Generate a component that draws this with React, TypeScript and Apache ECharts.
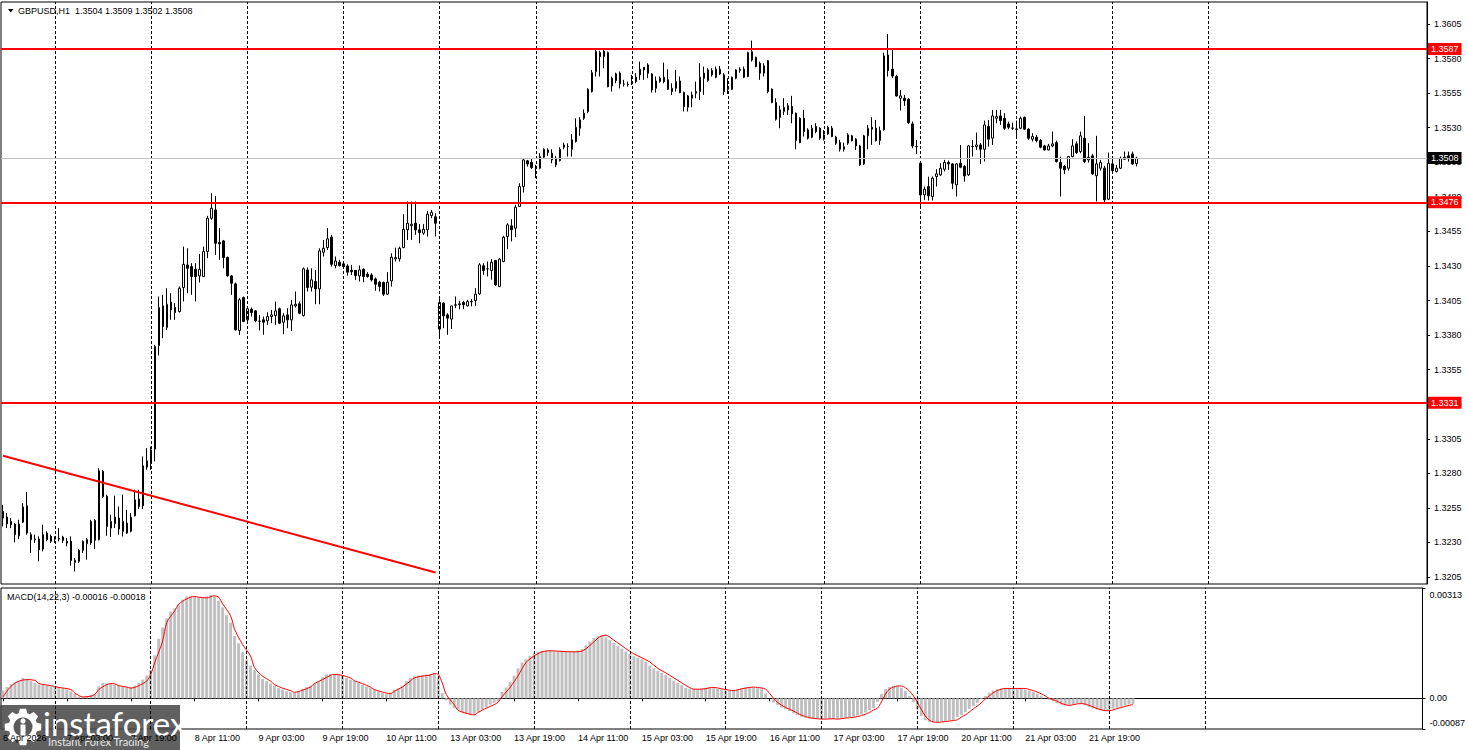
import React, { useEffect, useRef } from "react";
import * as echarts from "echarts";

// ---------- texts ----------
const symbolTitle = "GBPUSD,H1  1.3504 1.3509 1.3502 1.3508";
const macdTitle = "MACD(14,22,3) -0.00016 -0.00018";
const firstAxisLabel = "6 Apr 2026";
const brandName = "instaforex";
const brandSlogan = "Instant Forex Trading";

// ---------- time axis ----------
const sessionDays = ["6 Apr", "7 Apr", "8 Apr", "9 Apr", "10 Apr", "13 Apr", "14 Apr", "15 Apr", "16 Apr", "17 Apr", "20 Apr", "21 Apr", "22 Apr", "23 Apr", "24 Apr", "27 Apr"];
const firstSessionHour = 11;
const totalSlots = 356;
const gridMidnights = ["7 Apr 00:00", "8 Apr 00:00", "9 Apr 00:00", "10 Apr 00:00", "13 Apr 00:00", "14 Apr 00:00", "15 Apr 00:00", "16 Apr 00:00", "17 Apr 00:00", "20 Apr 00:00", "21 Apr 00:00", "22 Apr 00:00", "23 Apr 00:00"];
const labelEvery = 16;

// ---------- candles [open, high, low, close] per trading day ----------
const apr06 = [
  [1.32524, 1.32572, 1.32416, 1.32476], [1.32483, 1.32512, 1.32404, 1.32435], [1.32452, 1.32476, 1.32404, 1.32428],
  [1.32433, 1.3244, 1.32301, 1.32356], [1.32348, 1.32464, 1.32324, 1.32433], [1.32447, 1.32584, 1.3244, 1.32556],
  [1.32565, 1.32664, 1.32356, 1.32368], [1.32356, 1.32373, 1.32223, 1.3232], [1.3232, 1.32356, 1.32296, 1.32324],
  [1.32324, 1.32344, 1.32163, 1.32247], [1.32252, 1.32428, 1.32235, 1.32356], [1.32368, 1.3238, 1.32308, 1.3232],
  [1.32344, 1.32356, 1.32296, 1.32308],
];
const apr07 = [
  [1.32332, 1.32344, 1.32296, 1.32324], [1.32324, 1.32404, 1.32308, 1.3233], [1.32339, 1.32348, 1.32296, 1.32315],
  [1.32308, 1.32332, 1.32272, 1.32296], [1.32308, 1.32344, 1.32131, 1.3217], [1.3217, 1.32187, 1.3209, 1.32156],
  [1.32163, 1.32252, 1.32151, 1.32243], [1.32243, 1.32315, 1.32223, 1.32308], [1.32291, 1.32332, 1.32175, 1.3232],
  [1.32296, 1.32464, 1.32284, 1.32452], [1.32459, 1.32469, 1.32252, 1.32315], [1.3232, 1.32837, 1.32315, 1.32818],
  [1.32813, 1.32825, 1.32621, 1.32633], [1.32633, 1.32645, 1.32348, 1.32416], [1.32404, 1.325, 1.32339, 1.32452],
  [1.32435, 1.32638, 1.32404, 1.32483], [1.32476, 1.3256, 1.32356, 1.32397], [1.3238, 1.32645, 1.32344, 1.32452],
  [1.3244, 1.32536, 1.32363, 1.32368], [1.3238, 1.32512, 1.32373, 1.32483], [1.32493, 1.32681, 1.32488, 1.32608],
  [1.32613, 1.32681, 1.32541, 1.3256], [1.32565, 1.32922, 1.32541, 1.32854], [1.32845, 1.32982, 1.32825, 1.3289],
];
const apr08 = [
  [1.32873, 1.32994, 1.32825, 1.3297], [1.32975, 1.33729, 1.32886, 1.33717], [1.33724, 1.34079, 1.33652, 1.33999],
  [1.34011, 1.34091, 1.33777, 1.33862], [1.33855, 1.34139, 1.33837, 1.34023], [1.34038, 1.34103, 1.3391, 1.33982],
  [1.33999, 1.34031, 1.3391, 1.33963], [1.3397, 1.34151, 1.33963, 1.34139], [1.34144, 1.3444, 1.34043, 1.34312],
  [1.34307, 1.34428, 1.34103, 1.34283], [1.34295, 1.3432, 1.34091, 1.34223], [1.34276, 1.3432, 1.34043, 1.34223],
  [1.34228, 1.34387, 1.3418, 1.34276], [1.34223, 1.3444, 1.34223, 1.34404], [1.34404, 1.34662, 1.34356, 1.34645],
  [1.34645, 1.34826, 1.34633, 1.34717], [1.34705, 1.34806, 1.3438, 1.34464], [1.34469, 1.34573, 1.34344, 1.34459],
  [1.34481, 1.34488, 1.34283, 1.34361], [1.34361, 1.34368, 1.34223, 1.34228], [1.34228, 1.34235, 1.34091, 1.34175],
  [1.3417, 1.3418, 1.33833, 1.33837], [1.33833, 1.34067, 1.33801, 1.34055], [1.34071, 1.34079, 1.33893, 1.33898],
];
const apr09 = [
  [1.3391, 1.34006, 1.33898, 1.3399], [1.33987, 1.33999, 1.33934, 1.33963], [1.33975, 1.33982, 1.33893, 1.33903],
  [1.339, 1.33946, 1.33833, 1.339], [1.3391, 1.33934, 1.33802, 1.33893], [1.33903, 1.33965, 1.33874, 1.33934],
  [1.33934, 1.33982, 1.33886, 1.33946], [1.33941, 1.34042, 1.33874, 1.33975], [1.3399, 1.33999, 1.33879, 1.33886],
  [1.33893, 1.33958, 1.33806, 1.33939], [1.33946, 1.33994, 1.3385, 1.3391], [1.3391, 1.34055, 1.3383, 1.34018],
  [1.34011, 1.34115, 1.33999, 1.34023], [1.34026, 1.34043, 1.33951, 1.33958], [1.33941, 1.34289, 1.33934, 1.34279],
  [1.34271, 1.34289, 1.34115, 1.34144], [1.34146, 1.34283, 1.34115, 1.34199], [1.34187, 1.34271, 1.34023, 1.34134],
  [1.34134, 1.34428, 1.34023, 1.34409], [1.34399, 1.34488, 1.34368, 1.34428], [1.34433, 1.34573, 1.34416, 1.34496],
  [1.34508, 1.34525, 1.34295, 1.34312], [1.34303, 1.34368, 1.34283, 1.34336], [1.34327, 1.34344, 1.34295, 1.34303],
];
const apr10 = [
  [1.34315, 1.34332, 1.34284, 1.34296], [1.343, 1.34312, 1.3423, 1.34255], [1.34269, 1.34308, 1.34235, 1.34258],
  [1.34267, 1.34271, 1.34199, 1.3423], [1.34228, 1.34303, 1.34187, 1.34271], [1.34276, 1.34283, 1.34182, 1.34223],
  [1.3424, 1.34255, 1.34216, 1.34223], [1.34235, 1.34247, 1.34187, 1.34199], [1.34206, 1.34216, 1.3412, 1.34168],
  [1.34182, 1.34192, 1.34115, 1.34151], [1.3418, 1.34187, 1.34083, 1.34096], [1.34096, 1.34255, 1.34091, 1.34182],
  [1.34192, 1.34392, 1.34151, 1.34363], [1.34351, 1.34433, 1.34332, 1.34361], [1.34351, 1.3444, 1.34332, 1.34428],
  [1.34433, 1.34674, 1.34428, 1.34565], [1.34561, 1.34766, 1.34488, 1.34609], [1.34592, 1.34766, 1.34488, 1.34602],
  [1.34609, 1.34766, 1.34525, 1.34561], [1.34561, 1.34602, 1.34464, 1.34541], [1.34537, 1.34602, 1.34525, 1.34565],
  [1.34561, 1.34698, 1.34513, 1.34674], [1.34664, 1.34705, 1.34645, 1.34688], [1.34655, 1.34681, 1.34513, 1.34609],
];
const apr13 = [
  [1.33843, 1.34079, 1.33771, 1.34036], [1.34031, 1.34036, 1.3385, 1.33939], [1.33946, 1.33958, 1.33802, 1.33922],
  [1.33915, 1.34011, 1.33843, 1.34011], [1.34016, 1.34079, 1.33995, 1.34019], [1.34019, 1.34048, 1.33987, 1.34026],
  [1.34036, 1.34048, 1.33987, 1.34019], [1.34011, 1.34055, 1.34007, 1.34043], [1.3404, 1.3406, 1.34007, 1.34043],
  [1.3405, 1.34139, 1.34011, 1.34096], [1.34098, 1.3432, 1.34091, 1.34308], [1.34301, 1.3432, 1.34236, 1.34267],
  [1.34279, 1.34332, 1.34224, 1.34279], [1.34267, 1.34349, 1.342, 1.34327], [1.34339, 1.34344, 1.34156, 1.34163],
  [1.34151, 1.34356, 1.34146, 1.34349], [1.34332, 1.34518, 1.34327, 1.34508], [1.34513, 1.34609, 1.34421, 1.34597],
  [1.3459, 1.34638, 1.34477, 1.34561], [1.34573, 1.34742, 1.34508, 1.34725], [1.3473, 1.34898, 1.3473, 1.34874],
  [1.34874, 1.35079, 1.34831, 1.35067], [1.3506, 1.35067, 1.35019, 1.35038], [1.35048, 1.35079, 1.35, 1.35012],
];
const apr14 = [
  [1.35007, 1.35031, 1.34935, 1.35007], [1.35007, 1.35115, 1.35, 1.35091], [1.35086, 1.35151, 1.35079, 1.35144],
  [1.35139, 1.35151, 1.35096, 1.3512], [1.35115, 1.35144, 1.35043, 1.35067], [1.35031, 1.35096, 1.35014, 1.35079],
  [1.35062, 1.35159, 1.35055, 1.35144], [1.35159, 1.35192, 1.35144, 1.35175], [1.35163, 1.35187, 1.35091, 1.35163],
  [1.35144, 1.35255, 1.35091, 1.35212], [1.352, 1.35368, 1.35192, 1.35303], [1.35296, 1.35376, 1.35241, 1.35356],
  [1.35368, 1.35433, 1.35356, 1.35405], [1.35417, 1.35585, 1.35405, 1.35578], [1.35561, 1.35718, 1.35554, 1.35698],
  [1.35706, 1.35874, 1.3567, 1.3585], [1.35843, 1.35857, 1.3567, 1.35814], [1.35814, 1.35862, 1.3573, 1.35855],
  [1.35843, 1.3585, 1.35592, 1.35597], [1.35602, 1.3567, 1.35561, 1.35658], [1.35641, 1.35698, 1.35621, 1.35689],
  [1.35694, 1.35706, 1.35585, 1.35617], [1.35614, 1.35646, 1.35597, 1.35616], [1.35614, 1.35633, 1.35597, 1.35612],
];
const apr15 = [
  [1.35617, 1.35682, 1.35609, 1.35634], [1.35634, 1.35694, 1.35621, 1.35665], [1.35682, 1.35778, 1.35646, 1.35723],
  [1.35737, 1.35737, 1.35646, 1.35718], [1.35754, 1.35766, 1.35658, 1.35694], [1.35689, 1.35694, 1.35554, 1.35573],
  [1.35585, 1.3567, 1.35554, 1.35638], [1.35633, 1.3567, 1.35626, 1.35658], [1.35665, 1.35771, 1.35621, 1.35633],
  [1.35646, 1.35723, 1.35573, 1.35578], [1.35561, 1.35621, 1.35537, 1.35585], [1.35585, 1.35718, 1.35561, 1.35633],
  [1.35638, 1.3567, 1.35549, 1.35554], [1.35554, 1.35561, 1.35417, 1.35453], [1.35448, 1.35537, 1.35417, 1.3553],
  [1.35513, 1.35561, 1.35448, 1.35537], [1.35549, 1.35633, 1.35513, 1.35561], [1.35561, 1.35766, 1.35501, 1.35665],
  [1.35694, 1.35742, 1.35537, 1.35658], [1.35641, 1.3573, 1.35633, 1.35718], [1.35682, 1.3573, 1.3567, 1.35713],
  [1.35665, 1.35742, 1.35658, 1.35723], [1.35689, 1.35747, 1.35682, 1.35723], [1.35682, 1.35694, 1.35537, 1.35561],
];
const apr16 = [
  [1.35578, 1.35658, 1.35544, 1.3558], [1.35578, 1.3567, 1.35573, 1.35665], [1.35658, 1.35723, 1.3565, 1.35718],
  [1.35713, 1.35737, 1.35698, 1.35723], [1.35723, 1.35742, 1.35658, 1.35665], [1.3567, 1.3585, 1.35665, 1.35843],
  [1.3585, 1.3593, 1.35778, 1.3579], [1.35809, 1.35814, 1.35737, 1.35742], [1.35766, 1.35778, 1.35646, 1.35694],
  [1.35694, 1.35766, 1.3567, 1.35747], [1.35785, 1.3579, 1.35549, 1.35561], [1.35578, 1.35585, 1.35477, 1.35482],
  [1.35482, 1.35513, 1.35351, 1.35361], [1.35375, 1.35458, 1.35296, 1.35429], [1.35417, 1.35513, 1.35392, 1.35448],
  [1.35458, 1.35477, 1.35392, 1.35429], [1.35453, 1.3553, 1.35332, 1.354], [1.35405, 1.35409, 1.35144, 1.35207],
  [1.35192, 1.35376, 1.35188, 1.35368], [1.35368, 1.35429, 1.35236, 1.35272], [1.35284, 1.35296, 1.35214, 1.35224],
  [1.35231, 1.3532, 1.35224, 1.35296], [1.35308, 1.35332, 1.3526, 1.35272], [1.35296, 1.35303, 1.35212, 1.35224],
];
const apr17 = [
  [1.35217, 1.35284, 1.35207, 1.35248], [1.35255, 1.35313, 1.35248, 1.35303], [1.35296, 1.35313, 1.35231, 1.35236],
  [1.35231, 1.35241, 1.35176, 1.35188], [1.35192, 1.35212, 1.35127, 1.35144], [1.35144, 1.35192, 1.35127, 1.35163],
  [1.35188, 1.3526, 1.35176, 1.35248], [1.35241, 1.35248, 1.352, 1.35207], [1.35217, 1.35224, 1.35139, 1.35168],
  [1.35168, 1.35176, 1.35024, 1.35031], [1.35038, 1.35248, 1.35031, 1.35241], [1.35241, 1.3532, 1.35144, 1.35296],
  [1.35303, 1.35376, 1.35176, 1.35289], [1.35296, 1.35356, 1.352, 1.35207], [1.35207, 1.35308, 1.35176, 1.35279],
  [1.35284, 1.35843, 1.35279, 1.35819], [1.35826, 1.35978, 1.3567, 1.35713], [1.35723, 1.35862, 1.35658, 1.35674],
  [1.3567, 1.35682, 1.35525, 1.3553], [1.35513, 1.35573, 1.35424, 1.3553], [1.35513, 1.35537, 1.35458, 1.35496],
  [1.35506, 1.35513, 1.35327, 1.35337], [1.35327, 1.35344, 1.35151, 1.35168], [1.35163, 1.35212, 1.3511, 1.35165],
];
const apr20 = [
  [1.35043, 1.35043, 1.34735, 1.34814], [1.34814, 1.34874, 1.34778, 1.34855], [1.34874, 1.34946, 1.34773, 1.34807],
  [1.34802, 1.34947, 1.34773, 1.34935], [1.34947, 1.35, 1.34874, 1.34966], [1.34959, 1.35043, 1.34951, 1.35007],
  [1.34999, 1.35067, 1.34983, 1.35048], [1.35048, 1.35062, 1.34995, 1.35038], [1.35038, 1.35043, 1.34855, 1.34898],
  [1.34886, 1.35043, 1.34802, 1.35038], [1.35043, 1.35175, 1.35007, 1.35014], [1.35019, 1.35031, 1.3491, 1.34951],
  [1.34959, 1.35175, 1.34951, 1.35168], [1.35163, 1.35212, 1.35091, 1.35165], [1.35163, 1.35265, 1.35139, 1.35175],
  [1.35175, 1.35188, 1.35038, 1.35144], [1.35144, 1.35351, 1.35055, 1.3532], [1.35308, 1.35356, 1.35163, 1.35217],
  [1.35224, 1.35429, 1.35175, 1.35385], [1.35368, 1.35429, 1.35332, 1.3538], [1.35385, 1.35429, 1.3532, 1.35352],
  [1.35368, 1.35405, 1.35284, 1.35296], [1.35327, 1.35344, 1.35289, 1.35303], [1.35296, 1.35337, 1.35284, 1.35298],
];
const apr21 = [
  [1.35291, 1.35352, 1.35236, 1.35289], [1.35296, 1.3538, 1.35289, 1.35368], [1.35375, 1.3538, 1.35284, 1.35289],
  [1.35289, 1.35296, 1.35212, 1.35224], [1.35217, 1.3526, 1.352, 1.35236], [1.35231, 1.35248, 1.35193, 1.35207],
  [1.35207, 1.35217, 1.35151, 1.35159], [1.35168, 1.35176, 1.35135, 1.35139], [1.35139, 1.35183, 1.35135, 1.35168],
  [1.35168, 1.35272, 1.35159, 1.35183], [1.35192, 1.35207, 1.35048, 1.35055], [1.35048, 1.35091, 1.34802, 1.35007],
  [1.35019, 1.35031, 1.34966, 1.34995], [1.35007, 1.35096, 1.3499, 1.35091], [1.35091, 1.35217, 1.35086, 1.35168],
  [1.35183, 1.352, 1.3511, 1.3512], [1.35127, 1.35272, 1.35115, 1.35241], [1.35224, 1.35385, 1.35043, 1.35055],
  [1.35067, 1.35188, 1.35048, 1.35086], [1.35096, 1.3511, 1.34959, 1.34966], [1.34952, 1.35241, 1.34766, 1.35038],
  [1.35007, 1.35067, 1.3499, 1.35048], [1.35007, 1.35024, 1.34749, 1.34778], [1.34783, 1.3512, 1.34778, 1.35043],
];
const apr22 = [
  [1.35038, 1.35091, 1.34976, 1.3499], [1.34983, 1.35031, 1.34976, 1.35007], [1.35007, 1.35091, 1.35, 1.35079],
  [1.35072, 1.35127, 1.35067, 1.35086], [1.35096, 1.35127, 1.35055, 1.35079], [1.3511, 1.35127, 1.35031, 1.35038],
  [1.3504, 1.3509, 1.3502, 1.3508],
];
const candleDays = [apr06, apr07, apr08, apr09, apr10, apr13, apr14, apr15, apr16, apr17, apr20, apr21, apr22];

// ---------- levels ----------
const priceTicks = [1.3205, 1.323, 1.3255, 1.328, 1.3305, 1.333, 1.3355, 1.338, 1.3405, 1.343, 1.3455, 1.348, 1.3505, 1.353, 1.3555, 1.358, 1.3605];
const priceRange = [1.319994, 1.362091];
const keyLevels = [1.3587, 1.3476, 1.3331];
const bidPrice = 1.3508;
const trendLine = [[0, 1.32927], [108, 1.32083]];

// ---------- MACD ----------
const macdRange = [-0.00087, 0.00313];
const macdTicks = [-0.00087, 0, 0.00313];
const macdHist = [
  22e-5, 32e-5, 41e-5, 46e-5, 49e-5, 58e-5, 55e-5, 49e-5, 44e-5, 39e-5, 39e-5, 36e-5, 34e-5,
  32e-5, 32e-5, 29e-5, 25e-5, 20e-5, 13e-5, 5e-5, 3e-5, 7e-5, 10e-5, 12e-5, 34e-5, 44e-5, 42e-5, 41e-5, 39e-5, 36e-5, 34e-5, 32e-5, 32e-5, 36e-5, 44e-5, 53e-5, 65e-5,
  80e-5, 122e-5, 169e-5, 201e-5, 227e-5, 246e-5, 255e-5, 267e-5, 280e-5, 289e-5, 291e-5, 289e-5, 287e-5, 287e-5, 289e-5, 293e-5, 289e-5, 277e-5, 258e-5, 236e-5, 215e-5, 177e-5, 156e-5, 131e-5,
  110e-5, 93e-5, 80e-5, 68e-5, 55e-5, 49e-5, 42e-5, 36e-5, 29e-5, 25e-5, 20e-5, 17e-5, 15e-5, 20e-5, 27e-5, 32e-5, 36e-5, 42e-5, 49e-5, 60e-5, 68e-5, 69e-5, 69e-5, 68e-5,
  63e-5, 58e-5, 53e-5, 49e-5, 44e-5, 39e-5, 34e-5, 29e-5, 25e-5, 20e-5, 15e-5, 12e-5, 17e-5, 25e-5, 29e-5, 36e-5, 49e-5, 58e-5, 63e-5, 65e-5, 66e-5, 68e-5, 69e-5, 72e-5,
  60e-5, 15e-5, -6e-5, -18e-5, -28e-5, -34e-5, -40e-5, -44e-5, -47e-5, -47e-5, -40e-5, -32e-5, -25e-5, -18e-5, -13e-5, -9e-5, 18e-5, 31e-5, 46e-5, 64e-5, 85e-5, 102e-5, 111e-5, 120e-5,
  127e-5, 132e-5, 135e-5, 135e-5, 134e-5, 133e-5, 133e-5, 133e-5, 133e-5, 133e-5, 134e-5, 135e-5, 140e-5, 150e-5, 161e-5, 171e-5, 177e-5, 179e-5, 173e-5, 165e-5, 157e-5, 149e-5, 141e-5, 133e-5,
  126e-5, 119e-5, 115e-5, 110e-5, 103e-5, 93e-5, 85e-5, 78e-5, 72e-5, 66e-5, 58e-5, 50e-5, 44e-5, 37e-5, 30e-5, 26e-5, 25e-5, 26e-5, 28e-5, 30e-5, 31e-5, 29e-5, 27e-5, 25e-5,
  23e-5, 22e-5, 24e-5, 27e-5, 29e-5, 31e-5, 32e-5, 31e-5, 29e-5, 26e-5, 14e-5, 0, -12e-5, -19e-5, -26e-5, -31e-5, -36e-5, -42e-5, -48e-5, -52e-5, -55e-5, -57e-5, -58e-5, -59e-5,
  -59e-5, -58e-5, -58e-5, -59e-5, -58e-5, -56e-5, -55e-5, -54e-5, -52e-5, -49e-5, -46e-5, -40e-5, -33e-5, -28e-5, -10e-5, 12e-5, 26e-5, 32e-5, 35e-5, 35e-5, 30e-5, 21e-5, 7e-5, -11e-5,
  -32e-5, -50e-5, -62e-5, -67e-5, -68e-5, -67e-5, -66e-5, -64e-5, -63e-5, -61e-5, -53e-5, -47e-5, -39e-5, -30e-5, -22e-5, -13e-5, -2e-5, 7e-5, 16e-5, 22e-5, 26e-5, 28e-5, 28e-5, 28e-5,
  28e-5, 28e-5, 28e-5, 25e-5, 22e-5, 18e-5, 13e-5, 7e-5, 0, -4e-5, -8e-5, -14e-5, -18e-5, -20e-5, -18e-5, -16e-5, -15e-5, -16e-5, -20e-5, -24e-5, -29e-5, -32e-5, -35e-5, -35e-5,
  -33e-5, -29e-5, -26e-5, -23e-5, -20e-5, -17e-5, -16e-5,
];
// signal line, read at [bar index, value]
const macdSignal = [
  [0, 4e-5], [2, 34e-5], [4, 49e-5], [6, 53e-5], [8, 51e-5], [9, 42e-5], [12, 36e-5], [14, 31e-5], [17, 25e-5], [18, 15e-5], [20, 4e-5], [22, 6e-5], [23, 11e-5],
  [24, 25e-5], [26, 39e-5], [27, 42e-5], [28, 41e-5], [29, 36e-5], [31, 32e-5], [32, 29e-5], [33, 31e-5], [34, 36e-5], [36, 49e-5], [37, 68e-5], [38, 101e-5],
  [40, 163e-5], [41, 215e-5], [43, 248e-5], [44, 267e-5], [46, 282e-5], [48, 289e-5], [49, 287e-5], [51, 285e-5], [53, 291e-5], [54, 287e-5], [55, 268e-5],
  [57, 234e-5], [58, 196e-5], [60, 153e-5], [62, 120e-5], [63, 87e-5], [65, 63e-5], [67, 49e-5], [68, 39e-5], [70, 29e-5], [72, 22e-5], [73, 17e-5], [75, 23e-5],
  [77, 32e-5], [78, 42e-5], [80, 53e-5], [82, 65e-5], [83, 68e-5], [85, 65e-5], [87, 58e-5], [88, 50e-5], [90, 42e-5], [92, 32e-5], [93, 25e-5], [95, 18e-5],
  [97, 13e-5], [98, 20e-5], [100, 32e-5], [102, 49e-5], [103, 58e-5], [105, 63e-5], [107, 66e-5], [108, 70e-5], [109, 68e-5], [110, 44e-5], [111, 11e-5],
  [113, -18e-5], [114, -34e-5], [116, -42e-5], [118, -47e-5], [119, -40e-5], [121, -28e-5], [123, -18e-5], [124, -11e-5], [125, 5e-5], [127, 31e-5], [129, 64e-5],
  [131, 102e-5], [133, 120e-5], [135, 132e-5], [137, 135e-5], [140, 133e-5], [143, 132e-5], [145, 134e-5], [147, 150e-5], [149, 171e-5], [150, 177e-5], [151, 179e-5],
  [152, 173e-5], [154, 157e-5], [156, 141e-5], [158, 126e-5], [160, 115e-5], [162, 103e-5], [164, 85e-5], [166, 72e-5], [168, 58e-5], [170, 44e-5], [172, 30e-5],
  [173, 26e-5], [175, 26e-5], [177, 30e-5], [178, 31e-5], [180, 27e-5], [182, 23e-5], [183, 22e-5], [185, 27e-5], [187, 31e-5], [188, 32e-5], [189, 31e-5],
  [190, 29e-5], [191, 26e-5], [192, 14e-5], [193, 0], [194, -12e-5], [196, -26e-5], [198, -36e-5], [200, -48e-5], [202, -55e-5], [204, -58e-5], [206, -59e-5],
  [208, -58e-5], [209, -59e-5], [211, -56e-5], [213, -54e-5], [215, -49e-5], [217, -40e-5], [218, -33e-5], [219, -28e-5], [220, -10e-5], [221, 12e-5], [222, 26e-5],
  [223, 32e-5], [224, 35e-5], [225, 35e-5], [226, 30e-5], [227, 21e-5], [228, 7e-5], [229, -11e-5], [230, -32e-5], [231, -50e-5], [232, -62e-5], [233, -67e-5],
  [234, -68e-5], [236, -66e-5], [238, -63e-5], [239, -61e-5], [240, -53e-5], [241, -47e-5], [242, -39e-5], [243, -30e-5], [244, -22e-5], [245, -13e-5],
  [246, -2e-5], [247, 7e-5], [248, 16e-5], [249, 22e-5], [250, 26e-5], [251, 28e-5], [255, 28e-5], [256, 28e-5], [257, 25e-5], [258, 22e-5], [259, 18e-5],
  [260, 13e-5], [261, 7e-5], [262, 0], [263, -4e-5], [264, -8e-5], [265, -14e-5], [266, -18e-5], [267, -20e-5], [268, -18e-5], [269, -16e-5], [270, -15e-5],
  [271, -16e-5], [272, -20e-5], [273, -24e-5], [274, -29e-5], [275, -32e-5], [276, -35e-5], [277, -35e-5], [278, -33e-5], [279, -29e-5], [280, -26e-5],
  [281, -23e-5], [282, -20e-5], [283, -18e-5],
];

// ---------- builders ----------
function buildCategories(): string[] {
  const out: string[] = [];
  sessionDays.forEach((d, di) => {
    for (let h = di === 0 ? firstSessionHour : 0; h < 24; h++) {
      out.push(`${d} ${String(h).padStart(2, "0")}:00`);
    }
  });
  return out.slice(0, totalSlots);
}

function gearPoints(cx: number, cy: number, rIn: number, rOut: number, teeth: number) {
  const pts: number[][] = [];
  for (let k = 0; k < teeth; k++) {
    const a = (k * 2 * Math.PI) / teeth;
    [[-0.3, rIn], [-0.17, rOut], [0.17, rOut], [0.3, rIn]].forEach(([da, r]) => {
      pts.push([cx + r * Math.cos(a + da), cy + r * Math.sin(a + da)]);
    });
  }
  return pts;
}

const FONT = "Liberation Sans";

export default function App() {
  const ref = useRef<HTMLDivElement>(null);

  useEffect(() => {
    if (!ref.current) return;
    const chart = echarts.init(ref.current, null, { renderer: "svg" });
    const categories = buildCategories();
    const candles = candleDays.flat();
    const lastIndex = candles.length - 1;
    const lastSlot = categories.length - 1;
    const candleData = candles.map(([o, h, l, c]) => [o, c, l, h]);
    const showLabel = (i: number) => i % labelEvery === 0 && i <= lastIndex;

    const vLines = gridMidnights.map((name) => ({ xAxis: name }));
    const dashStyle = { color: "#000", width: 1, type: [3, 2] as any };

    const tagLabel = (v: number, bg: string) => ({
      show: true, position: "end", distance: 1, formatter: v.toFixed(4),
      backgroundColor: bg, color: "#ffffff", padding: [2, 3, 1, 3], fontSize: 9, fontFamily: FONT,
    });
    // horizontal lines across the whole plot: from the first slot edge to the last
    const hLine = (v: number, color: string, width: number, bg: string) => [
      { coord: [0, v], x: 1, lineStyle: { color, width, type: "solid" }, label: tagLabel(v, bg) },
      { coord: [lastSlot, v], x: 1427 },
    ];
    const levelMarks = keyLevels.map((v) => hLine(v, "#ff0000", 2, "#ff0000"));
    const bidMark = hLine(bidPrice, "#c0c0c0", 1, "#000000");
    const trendMark = [
      { coord: trendLine[0], lineStyle: { color: "#ff0000", width: 2, type: "solid" }, label: { show: false } },
      { coord: trendLine[1] },
    ];

    const option: any = {
      animation: false,
      backgroundColor: "#ffffff",
      textStyle: { fontFamily: FONT },
      title: [
        { text: symbolTitle, left: 18, top: 6, padding: 0, textStyle: { fontSize: 9, fontWeight: "normal", color: "#000", fontFamily: FONT } },
        { text: macdTitle, left: 7, top: 592, padding: 0, textStyle: { fontSize: 9, fontWeight: "normal", color: "#000", fontFamily: FONT } },
      ],
      grid: [
        { left: 1, right: 41, top: 2, height: 582, show: true, borderColor: "#000", borderWidth: 1, backgroundColor: "transparent" },
        { left: 1, right: 41, top: 588, height: 141, show: true, borderColor: "#000", borderWidth: 1, backgroundColor: "transparent" },
      ],
      xAxis: [
        {
          type: "category", gridIndex: 0, data: categories, boundaryGap: true,
          axisLine: { show: false }, axisTick: { show: false }, axisLabel: { show: false }, splitLine: { show: false },
        },
        {
          type: "category", gridIndex: 1, data: categories, boundaryGap: true,
          axisLine: { show: true, lineStyle: { color: "#000", width: 1 } },
          axisTick: { show: true, alignWithLabel: true, interval: (i: number) => showLabel(i), length: 3, lineStyle: { color: "#000" } },
          axisLabel: {
            show: true, interval: (i: number) => showLabel(i), align: "left", margin: 4,
            fontSize: 9, color: "#000", fontFamily: FONT,
            formatter: (v: string, i: number) => (i === 0 ? firstAxisLabel : v),
          },
          splitLine: { show: false },
        },
      ],
      yAxis: [
        {
          type: "value", gridIndex: 0, position: "right", min: priceRange[0], max: priceRange[1],
          axisLine: { show: true, lineStyle: { color: "#000" } },
          axisTick: { show: true, inside: false, length: 3, customValues: priceTicks, lineStyle: { color: "#000" } },
          axisLabel: { show: true, margin: 7, customValues: priceTicks, fontSize: 9, color: "#000", fontFamily: FONT, formatter: (v: number) => v.toFixed(4) },
          splitLine: { show: false },
        },
        {
          type: "value", gridIndex: 1, position: "right", min: macdRange[0], max: macdRange[1],
          axisLine: { show: true, lineStyle: { color: "#000" } },
          axisTick: { show: true, inside: false, length: 3, customValues: macdTicks, lineStyle: { color: "#000" } },
          axisLabel: {
            show: true, margin: 7, customValues: macdTicks, fontSize: 9, color: "#000", fontFamily: FONT,
            formatter: (v: number) =>
              v >= macdRange[1] - 1e-9 ? `{top|${macdRange[1].toFixed(5)}}` : v <= macdRange[0] + 1e-9 ? `{bot|${macdRange[0].toFixed(5)}}` : "0.00",
            rich: {
              top: { fontSize: 9, color: "#000", fontFamily: FONT, padding: [14, 0, 0, 0] },
              bot: { fontSize: 9, color: "#000", fontFamily: FONT, padding: [0, 0, 12, 0] },
            },
          },
          splitLine: { show: false },
        },
      ],
      series: [
        {
          type: "line", xAxisIndex: 0, yAxisIndex: 0, data: [], z: 1, silent: true,
          markLine: { silent: true, symbol: ["none", "none"], label: { show: false }, lineStyle: dashStyle, data: vLines },
        },
        {
          type: "candlestick", xAxisIndex: 0, yAxisIndex: 0, data: candleData, barWidth: 2, z: 3,
          itemStyle: { color: "#ffffff", color0: "#000000", borderColor: "#000000", borderColor0: "#000000", borderWidth: 1 },
        },
        {
          type: "line", xAxisIndex: 0, yAxisIndex: 0, data: [], z: 6, silent: true,
          markLine: {
            silent: true, symbol: ["none", "none"], label: { show: false },
            data: [bidMark, ...levelMarks, trendMark],
          },
        },
        {
          type: "bar", xAxisIndex: 1, yAxisIndex: 1, data: macdHist, barWidth: 3, z: 2,
          itemStyle: { color: "#c0c0c0" },
          markLine: { silent: true, symbol: ["none", "none"], label: { show: false }, lineStyle: dashStyle, data: vLines },
        },
        {
          type: "line", xAxisIndex: 1, yAxisIndex: 1, data: macdSignal, smooth: 0.3, showSymbol: false, symbol: "none", z: 4,
          lineStyle: { color: "#ff0000", width: 1 },
        },
      ],
      graphic: [
        { type: "polygon", shape: { points: [[8, 9], [13.5, 9], [10.75, 12.5]] }, style: { fill: "#000" } },
        {
          type: "group", z: 100,
          children: [
            { type: "rect", shape: { x: 0, y: 705, width: 180, height: 45 }, style: { fill: "rgba(74,74,74,0.88)" } },
            { type: "polygon", shape: { points: gearPoints(23, 727, 14.5, 18.5, 8) }, style: { fill: "#ffffff" } },
            { type: "circle", shape: { cx: 23, cy: 727, r: 9.5 }, style: { fill: "#5a5a5a" } },
            { type: "circle", shape: { cx: 23, cy: 721, r: 2.6 }, style: { fill: "#ffffff" } },
            { type: "rect", shape: { x: 20.5, y: 724.5, width: 5, height: 11 }, style: { fill: "#ffffff" } },
            { type: "text", style: { text: brandName, x: 43, y: 723, font: "33px Lato", fill: "#ffffff", verticalAlign: "middle" } },
            { type: "text", style: { text: brandSlogan, x: 48, y: 741, font: "11px Lato", fill: "#e6e6e6", verticalAlign: "middle" } },
          ],
        },
      ],
    };

    chart.setOption(option);
    return () => chart.dispose();
  }, []);

  return <div ref={ref} style={{ position: "absolute", left: 0, top: 0, width: 1468, height: 750 }} />;
}
